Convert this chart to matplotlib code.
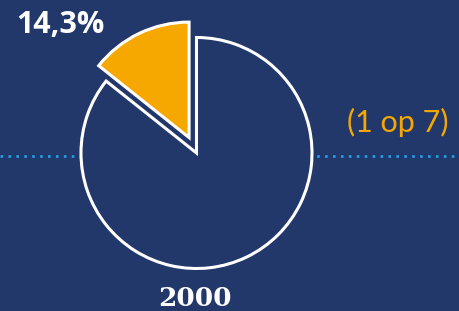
import matplotlib.pyplot as plt

# data
labels = ["1 op 7", "rest"]
shares = [14.3, 85.7]
year = "2000"
share_label = "14,3%"
ratio_label = "(1 op 7)"

bg = "#22376A"
orange = "#F7A800"
W, H = 459, 311
R = 115.5

fig = plt.figure(figsize=(W / 100, H / 100), dpi=100)
fig.patch.set_facecolor(bg)
ax = fig.add_axes([0, 0, 1, 1])
ax.set_facecolor(bg)

# dotted line behind the pie
ax.axhline(H - 155.5, color="#1FA2E8", lw=1.9, linestyle=(0, (1, 2)),
           dash_capstyle="butt", zorder=0)

# explode is in data units when radius is given
ax.pie(shares, colors=[orange, bg], startangle=90, explode=[0.148 * R, 0],
       center=(196.5, H - 153), radius=R, frame=True,
       wedgeprops=dict(edgecolor="white", linewidth=2.2, joinstyle="miter"))
ax.set_xlim(0, W)
ax.set_ylim(0, H)
ax.set_aspect("equal")
ax.axis("off")

ax.text(60, H - 25, share_label, color="white", fontsize=22, fontweight="bold",
        family="Open Sans", ha="center", va="center")
ax.text(398, H - 122, ratio_label, color=orange, fontsize=22, fontweight="normal",
        family="Lato", ha="center", va="center")
ax.text(195, H - 299, year, color="white", fontsize=19, fontweight="bold",
        family="DejaVu Serif", ha="center", va="center")

plt.savefig("out.png", dpi=100, facecolor=bg)
